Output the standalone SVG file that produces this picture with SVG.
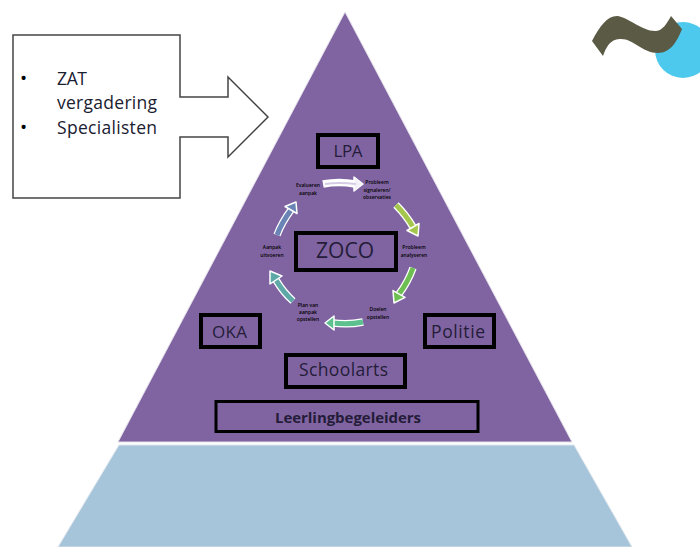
<svg xmlns="http://www.w3.org/2000/svg" width="700" height="547" viewBox="0 0 700 547">
<style>
text{font-family:"Open Sans","Noto Sans","Liberation Sans",sans-serif;text-anchor:middle;fill:#241c38}
.box{fill:none;stroke:#000}
.lab{font-size:5px;fill:#000;font-weight:600}
.sh{fill:none;stroke:#fff;stroke-width:7.500}
.hd{stroke:#fff;stroke-width:1.5;stroke-linejoin:round}
.sl{font-size:17.500px;fill:#1a2030;text-anchor:start}
.bu{font-size:19px;fill:#000;text-anchor:start}
</style>
<rect width="700" height="547" fill="#fff"/>
<g id="pyramid-top"><polygon points="345,12 572,442 118,442" fill="#8064a2" stroke="#e4e0ea" stroke-width="1"/></g>
<g id="pyramid-base"><polygon points="119,445 574,445 632,547 58,547" fill="#a6c4da" stroke="#dfe6ec" stroke-width="1"/></g>
<g id="logo">
<circle cx="683" cy="50" r="28" fill="#4cc9ec"/>
<path d="M592,41C600,26 607,16 617,16C628,17 642,31 655,31C663,31 667,23 671,16L682,29C677,42 670,53 658,53C642,53 634,39 621,39C611,38 606,47 603,56Z" fill="#5a5a45"/>
</g>
<g id="callout">
<path d="M13,35H180V97H228V77L268,117L228,157V137H180V198H13Z" fill="#fff" stroke="#444" stroke-width="1.5"/>
<text class="bu" x="20" y="85">•</text><text class="sl" x="57" y="85" textLength="30" lengthAdjust="spacing">ZAT</text>
<text class="sl" x="57" y="109" textLength="100" lengthAdjust="spacing">vergadering</text>
<text class="bu" x="20" y="134">•</text><text class="sl" x="57" y="134" textLength="100" lengthAdjust="spacing">Specialisten</text>
</g>
<g id="connectors">
<g id="arrow-1"><path class="sh" d="M323,184Q339,181 355,184"/><polygon class="hd" points="354,177 363,184 354,191" fill="#f4f0f8"/><path d="M325,184Q339,182 356,184" fill="none" stroke="#d6cbe4" stroke-width="2"/></g>
<g id="arrow-2"><path class="sh" d="M396,205Q406,215 413,227"/><path d="M396,205Q406,215 413,227" fill="none" stroke="#a4c64c" stroke-width="5"/><polygon class="hd" points="419,223.500 418,236 407,230.500" fill="#a4c64c"/></g>
<g id="arrow-3"><path class="sh" d="M413,268Q408,282 399,294"/><path d="M413,268Q408,282 399,294" fill="none" stroke="#6cbf50" stroke-width="5"/><polygon class="hd" points="405,297.400 394,303 393,290.600" fill="#6cbf50"/></g>
<g id="arrow-4"><path class="sh" d="M363,322Q348,325 333,323"/><path d="M363,322Q348,325 333,323" fill="none" stroke="#5cc08f" stroke-width="5"/><polygon class="hd" points="334,316 325,323 334,330" fill="#5cc08f"/></g>
<g id="arrow-5"><path class="sh" d="M293,301Q283,292 276,280"/><path d="M293,301Q283,292 276,280" fill="none" stroke="#5fa8a8" stroke-width="5"/><polygon class="hd" points="282,276 270,271 270,284" fill="#5fa8a8"/></g>
<g id="arrow-6"><path class="sh" d="M277,235Q282,222 291,210"/><path d="M277,235Q282,222 291,210" fill="none" stroke="#6a84b5" stroke-width="5"/><polygon class="hd" points="297,213.500 296,202 285,206.500" fill="#6a84b5"/></g>
</g>
<g id="cycle-labels">
<text class="lab" x="308" y="187">Evalueren</text><text class="lab" x="308" y="195">aanpak</text>
<text class="lab" x="377" y="184">Probleem</text><text class="lab" x="377" y="191.500">signaleren/</text><text class="lab" x="377" y="199">observaties</text>
<text class="lab" x="414" y="249">Probleem</text><text class="lab" x="414" y="256.500">analyseren</text>
<text class="lab" x="378" y="311">Doelen</text><text class="lab" x="378" y="319">opstellen</text>
<text class="lab" x="308" y="307">Plan van</text><text class="lab" x="308" y="314">aanpak</text><text class="lab" x="308" y="321">opstellen</text>
<text class="lab" x="272" y="249">Aanpak</text><text class="lab" x="272" y="256.500">uitvoeren</text>
</g>
<g id="lpa"><rect class="box" x="318" y="135" width="60" height="32" stroke-width="4"/><text x="348" y="157" font-size="17" textLength="29" lengthAdjust="spacing">LPA</text></g>
<g id="zoco"><rect class="box" x="296" y="233" width="100" height="37" stroke-width="4"/><text x="345" y="258" font-size="21" textLength="58" lengthAdjust="spacing">ZOCO</text></g>
<g id="oka"><rect class="box" x="201" y="315" width="59" height="32" stroke-width="4"/><text x="229.500" y="338" font-size="17" textLength="35" lengthAdjust="spacing">OKA</text></g>
<g id="politie"><rect class="box" x="425" y="315" width="69" height="32" stroke-width="4"/><text x="458" y="338" font-size="17.500" textLength="54" lengthAdjust="spacing">Politie</text></g>
<g id="schoolarts"><rect class="box" x="286" y="355" width="119" height="32" stroke-width="4"/><text x="343.500" y="376" font-size="17.500" textLength="89" lengthAdjust="spacing">Schoolarts</text></g>
<g id="leerlingbegeleiders"><rect class="box" x="216" y="401.500" width="262" height="30" stroke-width="3"/><text x="348" y="423" font-size="15" font-weight="700" textLength="146" lengthAdjust="spacing">Leerlingbegeleiders</text></g>
</svg>
